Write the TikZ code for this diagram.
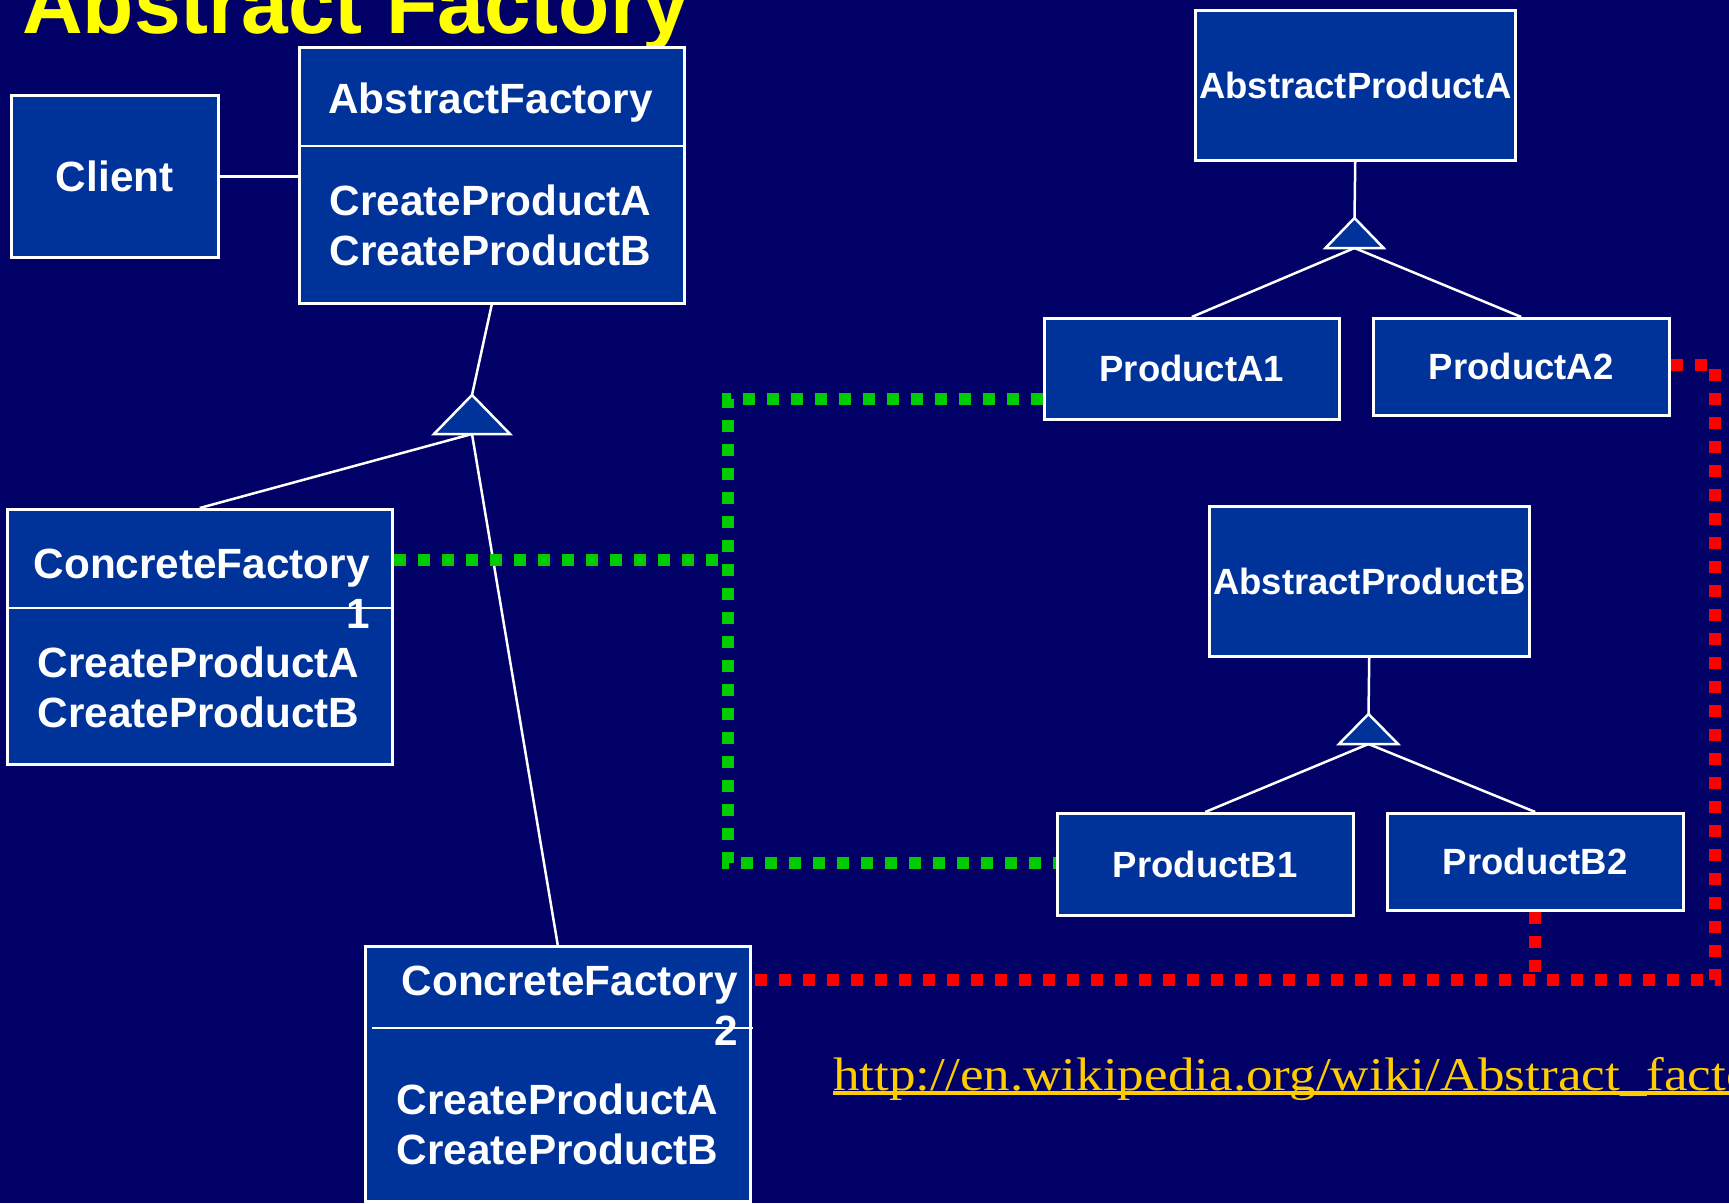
\documentclass[tikz,border=0pt]{standalone}
\usepackage{fontspec}
\setmainfont{Liberation Sans}
\newfontfamily\linkfont[FakeStretch=1.13]{Liberation Serif}
\definecolor{slidebg}{HTML}{000066}
\definecolor{boxblue}{HTML}{003399}
\definecolor{dotgreen}{HTML}{00CC00}
\definecolor{dotred}{HTML}{FF0000}
\definecolor{titleyellow}{HTML}{FFFF00}
\definecolor{linkgold}{HTML}{FFCC00}
\newcommand{\bigtext}{\fontsize{42.3}{50.5}\selectfont\bfseries}
\newcommand{\smalltext}{\fontsize{36.5}{44}\selectfont\bfseries}
\newcommand{\centerrows}[2]{\begin{tabular}[t]{@{}c@{}}#1\\#2\end{tabular}}
\newcommand{\rightrows}[2]{\begin{tabular}[t]{@{}r@{}}#1\\#2\end{tabular}}
\tikzset{
  classbox/.style={draw=white, fill=boxblue, line width=2.5pt, inner sep=0pt, anchor=north west, text=white},
  boxtext/.style={text=white, inner sep=0pt, font=\bigtext},
  umlline/.style={draw=white, line width=2.5pt},
  gentri/.style={draw=white, fill=boxblue, line width=2.5pt, line join=miter},
  greendots/.style={draw=dotgreen, line width=12pt, dash pattern=on 12pt off 12pt},
  reddots/.style={draw=dotred, line width=12pt, dash pattern=on 12pt off 12pt},
}
\begin{document}
\begin{tikzpicture}[x=1pt,y=-1pt]
\useasboundingbox (0,0) rectangle (1729,1203);
\clip (0,0) rectangle (1729,1203);
\fill[slidebg] (0,0) rectangle (1729,1203);

% title
\node[anchor=base west, inner sep=0pt, text=titleyellow, font=\fontsize{84}{90}\selectfont\bfseries] (title) at (22,33) {Abstract Factory};

% factory side
\node[classbox, minimum width=207pt, minimum height=162pt, font=\bigtext] (client) at (10,94) {Client};
\node[classbox, minimum width=385pt, minimum height=256pt] (af) at (298,46) {};
\draw[umlline] (298,146) -- (683,146);
\node[boxtext, anchor=base] (afname) at (490.5,113) {AbstractFactory};
\node[boxtext, anchor=base] (afops) at (490.5,215) {\centerrows{CreateProductA}{CreateProductB}};

\node[classbox, minimum width=385pt, minimum height=255pt] (cf1) at (6,508) {};
\draw[umlline] (6,608) -- (391,608);
\node[boxtext, anchor=base east] (cf1name) at (370,578) {\rightrows{ConcreteFactory}{1}};
\node[boxtext, anchor=base] (cf1ops) at (198.5,677) {\centerrows{CreateProductA}{CreateProductB}};

\node[classbox, minimum width=385pt, minimum height=255pt] (cf2) at (364,945) {};
\draw[umlline] (372,1028) -- (753,1028);
\node[boxtext, anchor=base east] (cf2name) at (738,995) {\rightrows{ConcreteFactory}{2}};
\node[boxtext, anchor=base] (cf2ops) at (557.5,1114) {\centerrows{CreateProductA}{CreateProductB}};

% product side
\node[classbox, minimum width=320pt, minimum height=150pt, font=\smalltext] (apa) at (1194,9) {AbstractProductA};
\node[classbox, minimum width=295pt, minimum height=101pt, font=\smalltext] (pa1) at (1043,317) {ProductA1};
\node[classbox, minimum width=296pt, minimum height=97pt, font=\smalltext] (pa2) at (1372,317) {ProductA2};
\node[classbox, minimum width=320pt, minimum height=150pt, font=\smalltext] (apb) at (1208,505) {AbstractProductB};
\node[classbox, minimum width=296pt, minimum height=102pt, font=\smalltext] (pb1) at (1056,812) {ProductB1};
\node[classbox, minimum width=296pt, minimum height=97pt, font=\smalltext] (pb2) at (1386,812) {ProductB2};

% association
\draw[umlline] (client.east) -- (client.east -| af.west);

% generalisation: factories
\coordinate (fapex) at (472,395);
\coordinate (fbase) at (472,434);
\draw[umlline] (af.south) -- (fapex);
\draw[umlline] (fbase) -- (cf1.north);
\draw[umlline] (fbase) -- (cf2.north);
\draw[gentri] (fapex) -- ++(38,39) -- ++(-76,0) -- cycle;

% generalisation: products A
\coordinate (aapex) at (1354.5,218);
\coordinate (abase) at (1354.5,248);
\draw[umlline] (apa.south) -- (aapex);
\draw[umlline] (abase) -- (pa1.north);
\draw[umlline] (abase) -- (pa2.north);
\draw[gentri] (aapex) -- ++(29,30) -- ++(-58,0) -- cycle;

% generalisation: products B
\coordinate (bapex) at (1368.5,714);
\coordinate (bbase) at (1368.5,744);
\draw[umlline] (apb.south) -- (bapex);
\draw[umlline] (bbase) -- (pb1.north);
\draw[umlline] (bbase) -- (pb2.north);
\draw[gentri] (bapex) -- ++(29.5,30) -- ++(-59,0) -- cycle;

% family 1
\coordinate (gtop) at (728,399);
\coordinate (gmid) at (728,560);
\coordinate (gbot) at (728,863);
\draw[greendots] (gtop -| pa1.west) -- (gtop) -- (gbot) -- (gbot -| pb1.west);
\draw[greendots] (gmid -| cf1.east) -- (gmid);

% family 2
\coordinate (rtop) at (1715,365);
\coordinate (rbot) at (1715,980);
\draw[reddots] (rtop -| pa2.east) -- (rtop) -- (rbot) -- (rbot -| cf2.east);
\draw[reddots] (pb2.south) -- (pb2.south |- rbot);

% reference
\node[anchor=base west, inner sep=0pt, text=linkgold, font=\linkfont\fontsize{47}{54}\selectfont] (link) at (833,1090) {http://en.wikipedia.org/wiki/Abstract\_factory\_pattern};
\draw[linkgold, line width=3.5pt] ([yshift=-3pt]link.base west) -- ([yshift=-3pt]link.base east);
\end{tikzpicture}
\end{document}
